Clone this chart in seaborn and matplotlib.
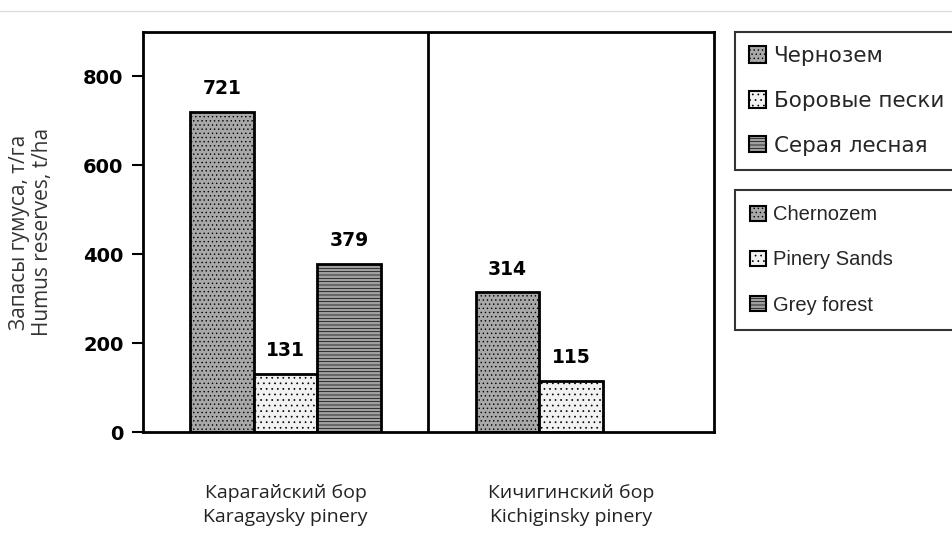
import pandas as pd
import seaborn as sns
import matplotlib.pyplot as plt
from matplotlib.patches import Patch
from matplotlib.lines import Line2D

# Data
sites = ["Карагайский бор\nKaragaysky pinery", "Кичигинский бор\nKichiginsky pinery"]
soils = ["Chernozem", "Pinery Sands", "Grey forest"]
soils_ru = ["Чернозем", "Боровые пески", "Серая лесная"]
karagay_values = [721, 131, 379]
kichiga_values = [314, 115]

rows = []
for soil, v in zip(soils, karagay_values):
    rows.append({"site": sites[0], "soil": soil, "value": v})
for soil, v in zip(soils, kichiga_values):
    rows.append({"site": sites[1], "soil": soil, "value": v})
df = pd.DataFrame(rows)

sns.set_style("white")
plt.rcParams['font.family'] = ['DejaVu Sans']
plt.rcParams['hatch.linewidth'] = 0.5

colors = {"Chernozem": "#a8a8a8", "Pinery Sands": "#f2f2f2", "Grey forest": "#a0a0a0"}
hatches = {"Chernozem": "....", "Pinery Sands": "...", "Grey forest": "-----"}

fig = plt.figure(figsize=(9.53, 5.34), dpi=100)
ax = fig.add_axes([0.150, 0.191, 0.599, 0.749])

sns.barplot(data=df, x="site", y="value", hue="soil", hue_order=soils, order=sites,
            palette=colors, width=0.667, ax=ax, legend=False,
            edgecolor="black", linewidth=2)

for cont, soil in zip(ax.containers, soils):
    for bar in cont:
        bar.set_hatch(hatches[soil])
    ax.bar_label(cont, fmt="%d", padding=10, fontsize=13.5, fontweight="bold", color="black")

ax.axvline(0.5, color="black", lw=2)
ax.set_ylim(0, 900)
ax.set_xlim(-0.5, 1.5)
ax.set_yticks([0, 200, 400, 600, 800])
ax.tick_params(axis="y", which="both", left=True, direction="out", length=8, width=1.5,
               labelsize=14, pad=6, labelcolor="black", color="black")
for lab in ax.get_yticklabels():
    lab.set_fontweight("bold")
ax.tick_params(axis="x", bottom=False, pad=34, labelsize=14, labelcolor="#222222")
for lab in ax.get_xticklabels():
    lab.set_fontfamily("Open Sans")
    lab.set_linespacing(1.45)
for sp in ax.spines.values():
    sp.set_color("black")
    sp.set_linewidth(2)
ax.set_xlabel("")
ax.set_ylabel("Запасы гумуса, т/га\nHumus reserves, t/ha", fontsize=15,
              fontfamily="Open Sans", color="#333333", labelpad=22, linespacing=1.1)

handles = [Patch(facecolor=colors[s], hatch=hatches[s], edgecolor="black", linewidth=1.5)
           for s in soils]
leg1 = fig.legend(handles, soils_ru, loc="upper left",
                  bbox_to_anchor=(0.771, 0.676, 0.3, 0.264), mode="expand",
                  frameon=True, fancybox=False, edgecolor="black",
                  handlelength=0.8, handleheight=0.8, handletextpad=0.35,
                  labelspacing=1.15, borderpad=0.65, borderaxespad=0,
                  prop={"family": "DejaVu Sans", "size": 15.5})
leg1.get_frame().set_linewidth(1.5)
leg2 = fig.legend(handles, soils, loc="upper left",
                  bbox_to_anchor=(0.771, 0.38, 0.3, 0.264), mode="expand",
                  frameon=True, fancybox=False, edgecolor="black",
                  handlelength=0.8, handleheight=0.8, handletextpad=0.35,
                  labelspacing=1.3, borderpad=0.75, borderaxespad=0,
                  prop={"family": "Liberation Sans", "size": 14.5})
leg2.get_frame().set_linewidth(1.5)

fig.add_artist(Line2D([0, 1], [0.98, 0.98], color="#dddddd", lw=1))

fig.savefig("out.png", dpi=100)
